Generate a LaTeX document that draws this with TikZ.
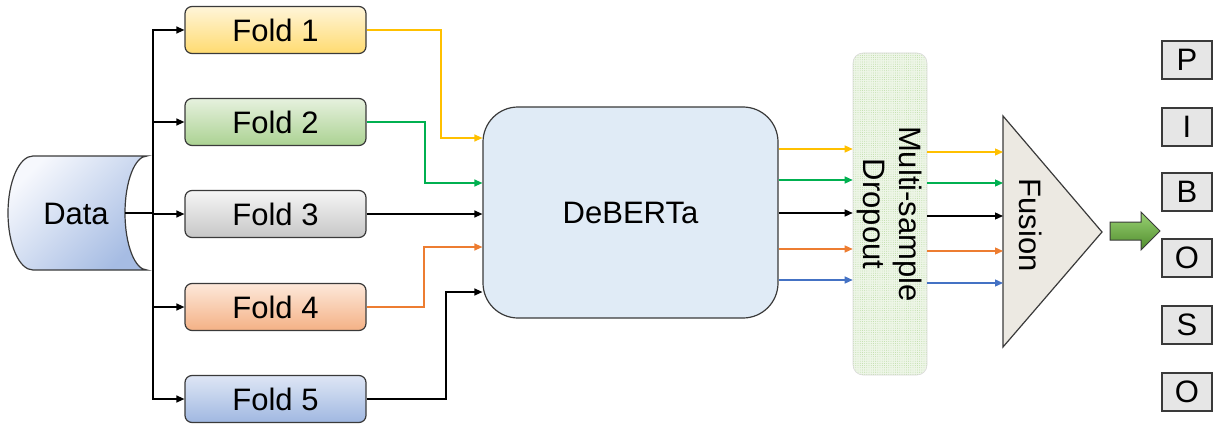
\documentclass[tikz,border=0pt]{standalone}
\usepackage{fontspec}
\setmainfont{Liberation Sans}
\usetikzlibrary{arrows.meta,patterns.meta}

\definecolor{edge}{HTML}{3A3A3A}
\definecolor{cyel}{HTML}{FFC000}
\definecolor{cgrn}{HTML}{00B050}
\definecolor{corg}{HTML}{ED7D31}
\definecolor{cblu}{HTML}{4472C4}
\definecolor{debfill}{HTML}{E0EBF6}
\definecolor{dropfill}{HTML}{EEF6E8}
\definecolor{dropdot}{HTML}{B5D99C}
\definecolor{fusfill}{HTML}{ECE9E2}
\definecolor{letfill}{HTML}{E6E6E6}
% fold gradients (top, bottom)
\definecolor{fAt}{HTML}{FFF5D9}\definecolor{fAb}{HTML}{FFDB70}
\definecolor{fBt}{HTML}{E6F1DE}\definecolor{fBb}{HTML}{ABD292}
\definecolor{fCt}{HTML}{F6F6F6}\definecolor{fCb}{HTML}{C6C6C6}
\definecolor{fDt}{HTML}{FDE8DA}\definecolor{fDb}{HTML}{F4B185}
\definecolor{fEt}{HTML}{DEE6F5}\definecolor{fEb}{HTML}{A0B7E1}
\definecolor{datat}{HTML}{F6F8FD}\definecolor{datab}{HTML}{A6BCE3}
\definecolor{gart}{HTML}{9AD274}\definecolor{garb}{HTML}{4F8C2C}

\newcommand{\lbl}{\fontsize{31}{36}\selectfont}

\tikzset{
  arr/.style={line width=1.3pt, -{Triangle[length=8pt,width=7pt]}},
  foldbox/.style 2 args={draw=edge, line width=1.2pt, rounded corners=7pt,
    minimum width=181pt, minimum height=47pt, font=\lbl,
    shading=axis, top color=#1, bottom color=#2},
  letbox/.style={draw=edge, line width=1.2pt, fill=letfill,
    minimum width=50pt, minimum height=38pt, inner sep=0pt, font=\lbl},
}

\begin{document}
\begin{tikzpicture}[x=1pt,y=-1pt]
\useasboundingbox (0,0) rectangle (1214,425);

% data store drawn as a sideways cylinder
\draw[edge, line width=1.2pt, shading=axis, top color=datat,
      bottom color=datab, shading angle=45]
  (33,156) -- (147,156)
  arc[start angle=-90, end angle=-270, x radius=22, y radius=57]
  -- (33,270)
  arc[start angle=90, end angle=270, x radius=25, y radius=57] -- cycle;
\node[font=\lbl] (data) at (76,214) {Data};
\coordinate (dataout) at (125,213);
\coordinate (split) at (153,213);

% the five folds
\node[foldbox={fAt}{fAb}] (f1) at (275.5,30) {Fold 1};
\node[foldbox={fBt}{fBb}] (f2) at (275.5,122) {Fold 2};
\node[foldbox={fCt}{fCb}] (f3) at (275.5,214) {Fold 3};
\node[foldbox={fDt}{fDb}] (f4) at (275.5,307) {Fold 4};
\node[foldbox={fEt}{fEb}] (f5) at (275.5,399) {Fold 5};

\draw[line width=1.3pt] (dataout) -- (split);
\foreach \f in {f1,f2,f3,f4,f5}
  \draw[arr] (split) |- (\f.west);

% encoder
\node[draw=edge, line width=1.2pt, fill=debfill, rounded corners=35pt,
      minimum width=295pt, minimum height=211pt, font=\lbl]
  (deb) at (630.5,212.5) {DeBERTa};

\draw[arr, cyel] (f1.east) -- (441,30) -- (441,138) -- (deb.west |- 0,138);
\draw[arr, cgrn] (f2.east) -- (425,122) -- (425,183) -- (deb.west |- 0,183);
\draw[arr] (f3.east) -- (deb.west |- 0,214);
\draw[arr, corg] (f4.east) -- (424,307) -- (424,247) -- (deb.west |- 0,247);
\draw[arr] (f5.east) -- (446,399) -- (446,292) -- (deb.west |- 0,292);

% dropout layer
\node[draw=black!15, line width=0.6pt, rounded corners=10pt,
      preaction={fill=dropfill},
      pattern={Dots[radius=0.45pt, distance=2.2pt]}, pattern color=dropdot,
      minimum width=74pt, minimum height=322pt] (drop) at (890,214) {};
\node[font=\lbl, rotate=-90, align=center] (droptxt) at (drop.center)
  {Multi-sample\\Dropout};

\draw[arr, cyel] (deb.east |- 0,149) -- (drop.west |- 0,149);
\draw[arr, cgrn] (deb.east |- 0,180) -- (drop.west |- 0,180);
\draw[arr] (deb.east |- 0,213) -- (drop.west |- 0,213);
\draw[arr, corg] (deb.east |- 0,249) -- (drop.west |- 0,249);
\draw[arr, cblu] (deb.east |- 0,280) -- (drop.west |- 0,280);

% fusion block
\draw[edge, line width=1.2pt, fill=fusfill]
  (1003,116) -- (1102,232) -- (1003,347) -- cycle;
\coordinate (fus) at (1003,232);
\node[font=\lbl, rotate=-90] (fustxt) at (1031,225) {Fusion};

\draw[arr, cyel] (drop.east |- 0,152) -- (fus |- 0,152);
\draw[arr, cgrn] (drop.east |- 0,183) -- (fus |- 0,183);
\draw[arr] (drop.east |- 0,216) -- (fus |- 0,216);
\draw[arr, corg] (drop.east |- 0,251) -- (fus |- 0,251);
\draw[arr, cblu] (drop.east |- 0,283) -- (fus |- 0,283);

% output block arrow
\draw[edge, line width=1pt, shading=axis, top color=gart, bottom color=garb]
  (1110,222) -- (1141,222) -- (1141,212) -- (1160,231) -- (1141,250)
  -- (1141,240) -- (1110,240) -- cycle;

% output labels
\node[letbox] (lp) at (1187,60) {P};
\node[letbox] (li) at (1187,127) {I};
\node[letbox] (lb) at (1187,192) {B};
\node[letbox] (lo) at (1187,258) {O};
\node[letbox] (ls) at (1187,325) {S};
\node[letbox] (lo2) at (1187,392) {O};
\end{tikzpicture}
\end{document}
